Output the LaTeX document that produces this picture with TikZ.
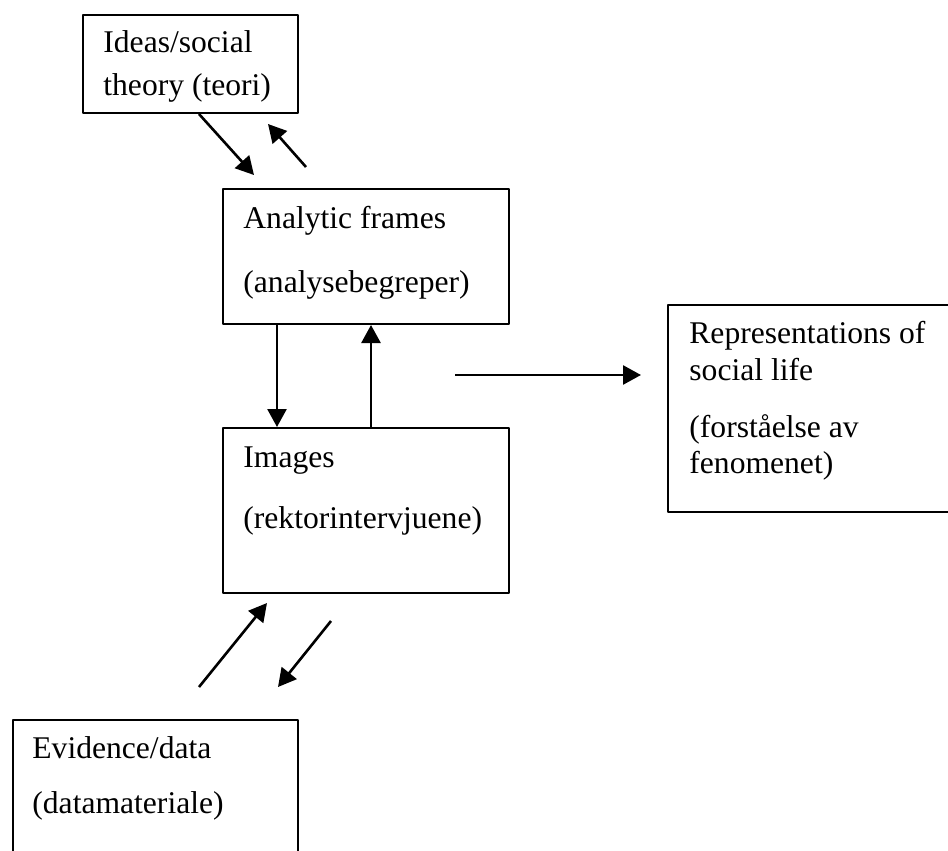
\documentclass[tikz,border=0pt]{standalone}
\usepackage{fontspec}
\setmainfont{Liberation Serif}
\usetikzlibrary{arrows.meta}
\begin{document}
\begin{tikzpicture}[x=0.5pt,y=-0.5pt,line join=round,>={Triangle[length=9pt,width=9.5pt]},
	box/.style={draw,line width=1pt,inner sep=0pt,anchor=north west},
	lbl/.style={anchor=base west,inner sep=0pt,font=\fontsize{15.8}{19}\selectfont},
	arr/.style={->,line width=1.3pt}]
	\def\u{0.5pt}
	\clip (0,0) rectangle (948,851);
	%Boksene
	\node[box,minimum width=215*\u,minimum height=98*\u] (ideas) at (82,14) {};
	\node[box,minimum width=286*\u,minimum height=135*\u] (frames) at (222,188) {};
	\node[box,minimum width=286*\u,minimum height=165*\u] (images) at (222,427) {};
	\node[box,minimum width=333*\u,minimum height=207*\u] (rep) at (667,304) {};
	\node[box,minimum width=285*\u,minimum height=200*\u] (evidence) at (12,719) {};
	%Tekstene
	\node[lbl] (ideas1) at (103,53) {Ideas/social};
	\node[lbl] (ideas2) at (103,95) {theory (teori)};
	\node[lbl] (frames1) at (243,228) {Analytic frames};
	\node[lbl] (frames2) at (243,292) {(analysebegreper)};
	\node[lbl] (images1) at (243,467) {Images};
	\node[lbl] (images2) at (243,528) {(rektorintervjuene)};
	\node[lbl] (rep1) at (689,343) {Representations of};
	\node[lbl] (rep2) at (689,380) {social life};
	\node[lbl] (rep3) at (689,437) {(forståelse av};
	\node[lbl] (rep4) at (689,473) {fenomenet)};
	\node[lbl] (evidence1) at (32,758) {Evidence/data};
	\node[lbl] (evidence2) at (32,813) {(datamateriale)};
	%Pilene
	\coordinate (p1) at (254,175);
	\coordinate (p2) at (306,167);
	\coordinate (p3) at (268,124);
	\draw[arr] ([xshift=117*\u]ideas.south west)--(p1);
	\draw[arr] (p2)--(p3);
	\draw[arr] ([xshift=55*\u]frames.south west)--([xshift=55*\u]images.north west);
	\draw[arr] ([xshift=149*\u]images.north west)--([xshift=149*\u]frames.south west);
	\coordinate (h1) at (455,375);
	\coordinate (h2) at (641,375);
	\draw[arr] (h1)--(h2);
	\coordinate (b1) at (199,687);
	\coordinate (b2) at (267,603);
	\coordinate (b3) at (331,621);
	\coordinate (b4) at (278,687);
	\draw[arr] (b1)--(b2);
	\draw[arr] (b3)--(b4);
\end{tikzpicture}
\end{document}
